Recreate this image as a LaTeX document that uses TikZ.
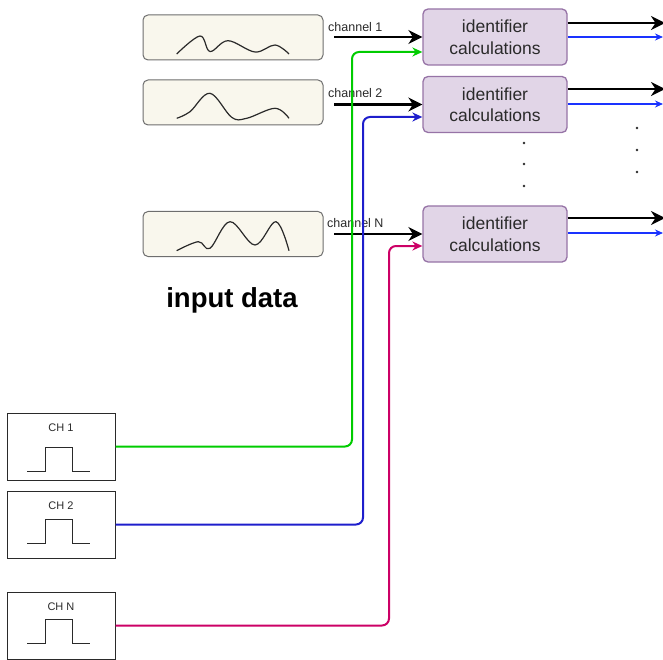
\documentclass[tikz,border=0pt]{standalone}
\usepackage{fontspec}
\setmainfont{Liberation Sans}
\usepackage{xcolor}
\usetikzlibrary{arrows.meta, positioning}

\definecolor{wavefill}{HTML}{F9F7ED}
\definecolor{waveline}{HTML}{6E6E6E}
\definecolor{idfill}{HTML}{E1D5E7}
\definecolor{idline}{HTML}{9673A6}
\definecolor{txtgray}{HTML}{2A2A2A}
\definecolor{lgreen}{HTML}{00CC00}
\definecolor{lblue}{HTML}{1E1ECC}
\definecolor{lmagenta}{HTML}{CC0066}
\definecolor{oblue}{HTML}{1A33FF}

\begin{document}
\begin{tikzpicture}[x=1pt,y=-1pt]
	\tikzstyle{wave}=[rectangle,rounded corners=5pt,draw=waveline,fill=wavefill,line width=1pt,minimum width=180pt,minimum height=45pt]
	\tikzstyle{curve}=[draw=txtgray,line width=1.2pt]
	\tikzstyle{ident}=[rectangle,rounded corners=5pt,draw=idline,fill=idfill,line width=1.3pt,minimum width=144pt,minimum height=56pt,align=center,text=txtgray,font=\fontsize{17.5}{21.5}\selectfont]
	\tikzstyle{chbox}=[rectangle,draw=txtgray,line width=1pt,minimum width=108pt,minimum height=67pt]
	\tikzstyle{chtext}=[text=txtgray,font=\fontsize{11}{13}\selectfont]
	\tikzstyle{chantext}=[text=txtgray,inner sep=0pt,anchor=base west,font=\fontsize{12.5}{14}\selectfont]
	\tikzstyle{inarrow}=[line width=2.8pt,-{Stealth[length=14pt,width=14pt]}]
	\tikzstyle{outblue}=[oblue,line width=1.1pt,-{Stealth[length=8pt,width=7pt]}]
	\tikzstyle{link}=[line width=2pt,rounded corners=7pt,-{Stealth[length=10pt,width=9pt]}]
	\tikzstyle{pt}=[circle,fill=txtgray,inner sep=0pt,minimum size=2.6pt]
	\useasboundingbox (0,0) rectangle (663,660);

	% input data
	\node[wave](s1) at (233,37.5){};
	\node[wave](s2) at (233,102.5){};
	\node[wave](sN) at (233,234){};
	\draw[curve] plot[smooth,tension=0.6] coordinates {(176.7,54) (200,36) (210,51.5) (228,40.7) (255,52) (275,45) (289,54)};
	\draw[curve] plot[smooth,tension=0.6] coordinates {(176.7,118.3) (190,111.7) (210,93.3) (231.7,117.3) (246.7,118.3) (275,108.3) (289,118.3)};
	\draw[curve] plot[smooth,tension=0.6] coordinates {(176.7,250.7) (198.3,241.7) (210,248.3) (230,221.7) (255,245) (276,221.7) (289,250.7)};
	\node[font=\fontsize{27.5}{31}\selectfont\bfseries](inp) at (232,300){input data};

	% identifier blocks
	\node[ident](id1) at (495,37){identifier\\calculations};
	\node[ident](id2) at (495,104.5){identifier\\calculations};
	\node[ident](idN) at (495,234){identifier\\calculations};

	\node[chantext](c1) at (328,32){channel 1};
	\node[chantext](c2) at (328,98){channel 2};
	\node[chantext](cN) at (327,227){channel N};
	\coordinate (a1) at (334,37);
	\coordinate (a2) at (334,104.5);
	\coordinate (aN) at (334,234);
	\draw[inarrow] (a1) -- (id1.west);
	\draw[inarrow] (a2) -- (id2.west);
	\draw[inarrow] (aN) -- (idN.west);

	% outputs
	\coordinate (o1) at (665,23);
	\coordinate (o2) at (665,89);
	\coordinate (oN) at (665,218);
	\coordinate (b1) at (663,37);
	\coordinate (b2) at (663,104);
	\coordinate (bN) at (663,233);
	\draw[inarrow] (id1.east |- o1) -- (o1);
	\draw[inarrow] (id2.east |- o2) -- (o2);
	\draw[inarrow] (idN.east |- oN) -- (oN);
	\draw[outblue] (id1.east |- b1) -- (b1);
	\draw[outblue] (id2.east |- b2) -- (b2);
	\draw[outblue] (idN.east |- bN) -- (bN);

	\foreach \y in {143,164,186} \node[pt] at (524,\y){};
	\foreach \y in {128,150,172} \node[pt] at (637,\y){};

	% trigger channels
	\node[chbox](ch1) at (61,446.5){};
	\node[chbox](ch2) at (61,524.5){};
	\node[chbox](chN) at (61,625.5){};
	\node[chtext,below=8pt of ch1.north](l1){CH 1};
	\node[chtext,below=8pt of ch2.north](l2){CH 2};
	\node[chtext,below=8pt of chN.north](lN){CH N};
	\foreach \b in {471,543,643}
		\draw[txtgray,line width=1pt] (27,\b) -- ++(18,0) -- ++(0,-24) -- ++(27,0) -- ++(0,24) -- ++(18,0);

	\coordinate (g1) at (352,52);
	\coordinate (g2) at (363,117);
	\coordinate (gN) at (389,246);
	\draw[link,lgreen] (ch1.east) -| (g1) -- (g1 -| id1.west);
	\draw[link,lblue] (ch2.east) -| (g2) -- (g2 -| id2.west);
	\draw[link,lmagenta] (chN.east) -| (gN) -- (gN -| idN.west);
\end{tikzpicture}
\end{document}
